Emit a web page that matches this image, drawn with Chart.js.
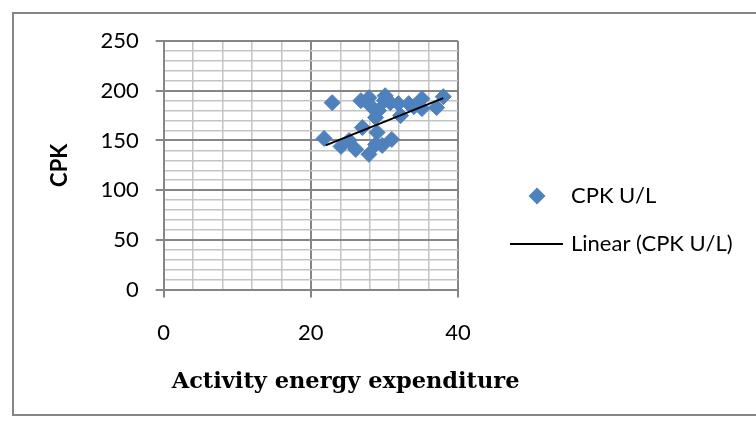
<!DOCTYPE html>
<html>
<head>
<meta charset="utf-8">
<script src="https://cdn.jsdelivr.net/npm/chart.js@4.4.1/dist/chart.umd.min.js"></script>
<style>
  html, body { margin: 0; padding: 0; background: #fff; }
</style>
</head>
<body>
<canvas id="cpk-chart" width="756" height="428"></canvas>
<script>
// values
let cpk_x = [22.9, 21.8, 27.0, 24.1, 26.1, 27.9, 29.0, 29.7, 31.0, 25.2, 28.8,
             26.8, 27.9, 30.1, 29.2, 28.8, 31.9, 32.2, 33.3, 35.1, 35.1, 37.1, 38.0, 30.8, 28.1, 30.0, 34.0];
let cpk_y = [188, 152, 163, 144, 141, 136, 158, 145, 151, 150, 146,
             190, 193, 195, 180, 173, 187, 175, 187, 192, 182, 183, 194, 188, 185, 190, 184];
// trend line ends as drawn in the picture
let trend_x = [22, 38];
let trend_y = [145, 192.5];

let x_ticks = [0, 20, 40];
let y_ticks = [0, 50, 100, 150, 200, 250];
let x_title = 'Activity energy expenditure';

let blue = '#4F81BD';
let major_grid = '#868686';
let minor_grid = '#c4c4c4';
let label_font = 'Lato';
let title_font = '"DejaVu Serif"';

let to_points = function(xs, ys) {
    return xs.map((x, i) => ({x: x, y: ys[i]}));
};

let frame_plugin = {
    id: 'frame',
    beforeDraw: function(chart) {
        let c = chart.ctx;
        c.save();
        c.fillStyle = '#fff';
        c.fillRect(0, 0, chart.width, chart.height);
        c.strokeStyle = major_grid;
        c.lineWidth = 2;
        c.strokeRect(13, 13, chart.width + 20, chart.height - 26);
        c.restore();
    }
};

// the scale title gets squeezed to the plot width, so it only keeps the room
// and the text is written here at its natural width
let x_title_plugin = {
    id: 'x_title',
    afterDraw: function(chart) {
        let c = chart.ctx;
        let sx = chart.scales.x;
        c.save();
        c.fillStyle = '#000';
        c.font = 'bold 22.5px ' + title_font;
        c.textBaseline = 'middle';
        c.fillText(x_title, chart.chartArea.left + 8, sx.bottom - 4 - 13.5);
        c.restore();
    }
};

// legend to the right of the plot (the built-in one is capped to a quarter of the width)
let side_legend = {
    id: 'side_legend',
    afterDraw: function(chart) {
        let c = chart.ctx;
        let area = chart.chartArea;
        let sets = chart.data.datasets;
        let left = area.right + 52;
        let y1 = area.top + 155;
        let y2 = area.top + 203;
        c.save();
        c.fillStyle = sets[0].backgroundColor;
        c.beginPath();
        c.moveTo(left + 27, y1 - 8.5);
        c.lineTo(left + 35.5, y1);
        c.lineTo(left + 27, y1 + 8.5);
        c.lineTo(left + 18.5, y1);
        c.closePath();
        c.fill();
        c.strokeStyle = sets[1].borderColor;
        c.lineWidth = 2;
        c.beginPath();
        c.moveTo(left, y2);
        c.lineTo(left + 53, y2);
        c.stroke();
        c.fillStyle = '#000';
        c.font = '22px ' + label_font;
        c.textBaseline = 'middle';
        c.fillText(sets[0].label, left + 61, y1);
        c.fillText(sets[1].label, left + 61, y2);
        c.restore();
    }
};

let is_major = (v, step) => Math.abs(v % step) < 1e-6;

let make_chart = function() {
    let ctx = document.getElementById('cpk-chart').getContext('2d');
    return new Chart(ctx, {
        type: 'scatter',
        data: {
            datasets: [{
                label: 'CPK U/L',
                data: to_points(cpk_x, cpk_y),
                backgroundColor: blue,
                borderColor: blue,
                borderWidth: 1,
                pointStyle: 'rectRot',
                pointRadius: 8,
                order: 1,
            }, {
                type: 'line',
                label: 'Linear (CPK U/L)',
                data: to_points(trend_x, trend_y),
                borderColor: '#000',
                borderWidth: 2,
                pointRadius: 0,
                fill: false,
                order: 0,
            }],
        },
        options: {
            responsive: false,
            animation: false,
            layout: { padding: { left: 44, top: 41, right: 298, bottom: 28 } },
            plugins: {
                tooltip: { enabled: false },
                legend: { display: false },
            },
            scales: {
                x: {
                    type: 'linear',
                    min: 0, max: 40,
                    ticks: {
                        stepSize: 4,
                        autoSkip: false,
                        maxRotation: 0,
                        padding: 22,
                        color: '#000',
                        font: { family: label_font, size: 22 },
                        callback: v => x_ticks.includes(v) ? v : '',
                    },
                    grid: {
                        color: c => is_major(c.tick.value, 20) ? major_grid : minor_grid,
                        lineWidth: c => is_major(c.tick.value, 20) ? 2 : 1.5,
                        tickColor: c => is_major(c.tick.value, 20) ? major_grid : 'rgba(0,0,0,0)',
                        tickLength: 8,
                    },
                    border: { color: major_grid, width: 2 },
                    title: {
                        display: true,
                        text: x_title,
                        color: 'rgba(0,0,0,0)',
                        font: { family: title_font, size: 22.5, weight: 'bold' },
                        padding: { top: 1, bottom: 4 },
                    },
                },
                y: {
                    min: 0, max: 250,
                    ticks: {
                        stepSize: 10,
                        autoSkip: false,
                        padding: 17,
                        color: '#000',
                        font: { family: label_font, size: 22 },
                        callback: v => y_ticks.includes(v) ? v : '',
                    },
                    grid: {
                        color: c => is_major(c.tick.value, 50) ? major_grid : minor_grid,
                        lineWidth: c => is_major(c.tick.value, 50) ? 2 : 1.5,
                        tickColor: c => is_major(c.tick.value, 50) ? major_grid : 'rgba(0,0,0,0)',
                        tickLength: 8,
                    },
                    border: { color: major_grid, width: 2 },
                    title: {
                        display: true,
                        text: 'CPK',
                        color: '#000',
                        font: { family: label_font, size: 22, weight: 'bold' },
                        padding: { top: 3, bottom: 10 },
                    },
                },
            },
        },
        plugins: [frame_plugin, x_title_plugin, side_legend],
    });
};

Promise.all([
    document.fonts.load('22px Lato'),
    document.fonts.load('bold 22px Lato'),
    document.fonts.load('bold 22.5px "DejaVu Serif"'),
]).then(make_chart, make_chart);
</script>
</body>
</html>
